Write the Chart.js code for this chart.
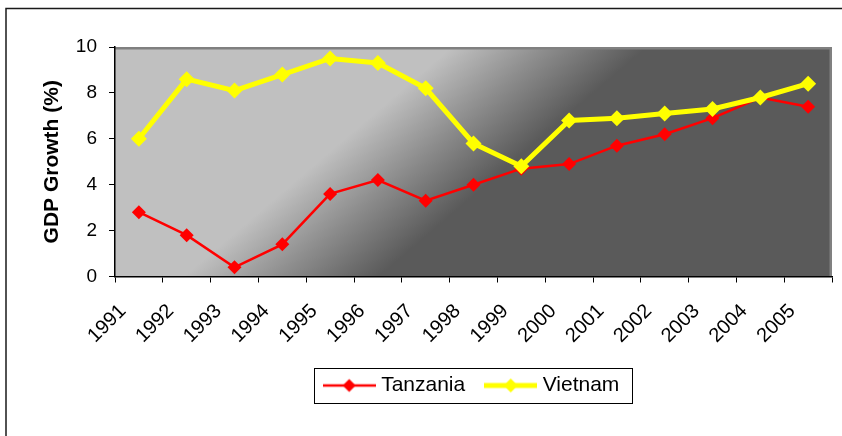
<!DOCTYPE html>
<html>
<head>
<meta charset="utf-8">
<script src="https://cdn.jsdelivr.net/npm/chart.js@4.4.0/dist/chart.umd.min.js"></script>
<style>
  html, body { margin: 0; padding: 0; background: #fff; }
  canvas { display: block; }
</style>
</head>
<body>
<canvas id="gdp-chart" width="842" height="436"></canvas>
<script>
var years = ['1991', '1992', '1993', '1994', '1995', '1996', '1997', '1998',
             '1999', '2000', '2001', '2002', '2003', '2004', '2005'];
var tanzaniaGrowth = [2.8, 1.8, 0.4, 1.4, 3.6, 4.2, 3.3, 4.0, 4.7, 4.9, 5.7, 6.2, 6.9, 7.8, 7.4];
var vietnamGrowth = [6.0, 8.6, 8.1, 8.8, 9.5, 9.3, 8.2, 5.8, 4.8, 6.8, 6.9, 7.1, 7.3, 7.8, 8.4];
var yTicks = [0, 2, 4, 6, 8, 10];

Chart.defaults.font.family = "'Liberation Sans', Arial, sans-serif";
Chart.defaults.color = '#000';

// legend swatch: short line with a diamond in the middle, like the excel legend
function legendMarker(color, lineWidth, radius) {
    var c = document.createElement('canvas');
    c.width = 53;
    c.height = 18;
    var g = c.getContext('2d');
    g.strokeStyle = color;
    g.lineWidth = lineWidth;
    g.beginPath();
    g.moveTo(0, 9);
    g.lineTo(53, 9);
    g.stroke();
    g.fillStyle = color;
    g.beginPath();
    g.moveTo(26.5 - radius, 9);
    g.lineTo(26.5, 9 - radius);
    g.lineTo(26.5 + radius, 9);
    g.lineTo(26.5, 9 + radius);
    g.closePath();
    g.fill();
    return c;
}
var markers = [legendMarker('#ff0000', 2.5, 6.5), legendMarker('#ffff00', 5, 7)];

var plotDecor = {
    id: 'plotDecor',
    beforeDraw: function (chart) {
        var ctx = chart.ctx, a = chart.chartArea;
        var w = a.right - a.left, h = a.bottom - a.top;
        ctx.save();
        // outer chart frame (only top and left are inside the picture)
        ctx.strokeStyle = '#1a1a1a';
        ctx.lineWidth = 1.5;
        ctx.beginPath();
        ctx.moveTo(6, chart.height);
        ctx.lineTo(6, 8.5);
        ctx.lineTo(chart.width, 8.5);
        ctx.stroke();
        // diagonal grey gradient in the plot area
        var grad = ctx.createLinearGradient(a.left + 0.47 * w, a.top, a.left + 0.585 * w, a.top + 0.42 * h);
        grad.addColorStop(0, '#c0c0c0');
        grad.addColorStop(0.5, '#8c8c8c');
        grad.addColorStop(1, '#5a5a5a');
        ctx.fillStyle = grad;
        ctx.fillRect(a.left, a.top, w, h);
        ctx.strokeStyle = '#808080';
        ctx.lineWidth = 2.5;
        ctx.beginPath();
        ctx.moveTo(a.left, a.top + 1.25);
        ctx.lineTo(a.right - 1.25, a.top + 1.25);
        ctx.lineTo(a.right - 1.25, a.bottom);
        ctx.stroke();
        ctx.restore();
    },
    afterDraw: function (chart) {
        var lg = chart.legend;
        if (!lg || !lg.lineWidths) return;
        var ctx = chart.ctx;
        var pad = lg.options.labels.padding;
        var startX = (lg.left + pad + lg.right - lg.lineWidths[0]) / 2;
        var rowW = lg.lineWidths[0] - pad;
        var rowTop = lg.top + pad;
        ctx.save();
        ctx.strokeStyle = '#000';
        ctx.lineWidth = 1;
        ctx.strokeRect(Math.round(startX - 14) + 0.5, Math.round(rowTop - 7) + 0.5, Math.round(rowW + 26), 35);
        ctx.restore();
    }
};

var gdpChart = new Chart(document.getElementById('gdp-chart'), {
    type: 'line',
    data: {
        labels: years,
        datasets: [
            {
                label: 'Tanzania',
                data: tanzaniaGrowth,
                borderColor: '#ff0000',
                backgroundColor: '#ff0000',
                borderWidth: 2.5,
                pointStyle: 'rectRot',
                pointRadius: 7,
                pointBorderWidth: 0,
                pointBackgroundColor: '#ff0000',
                tension: 0,
                order: 1
            },
            {
                label: 'Vietnam',
                data: vietnamGrowth,
                borderColor: '#ffff00',
                backgroundColor: '#ffff00',
                borderWidth: 5,
                pointStyle: 'rectRot',
                pointRadius: 8,
                pointBorderWidth: 0,
                pointBackgroundColor: '#ffff00',
                tension: 0,
                order: 0
            }
        ]
    },
    options: {
        responsive: false,
        animation: false,
        layout: { padding: { left: 40, top: 47, right: 10, bottom: 30 } },
        plugins: {
            tooltip: { enabled: false },
            legend: {
                position: 'bottom',
                fullSize: false,
                labels: {
                    usePointStyle: true,
                    pointStyleWidth: 43,
                    padding: 24,
                    color: '#000',
                    font: { size: 21 },
                    generateLabels: function (chart) {
                        return chart.data.datasets.map(function (ds, i) {
                            return {
                                text: ds.label,
                                pointStyle: markers[i],
                                fillStyle: ds.borderColor,
                                strokeStyle: ds.borderColor,
                                lineWidth: 0,
                                hidden: false,
                                datasetIndex: i,
                                fontColor: '#000'
                            };
                        });
                    }
                }
            }
        },
        scales: {
            x: {
                offset: true,
                grid: { offset: true, drawOnChartArea: false, drawTicks: true, tickLength: 6, color: '#000' },
                border: { color: '#000', width: 1.5 },
                ticks: {
                    autoSkip: false, maxRotation: 45, minRotation: 45,
                    padding: 17, labelOffset: -16, color: '#000', font: { size: 20 }
                },
                afterFit: function (scale) {
                    scale.height = 74.5;
                    scale.paddingLeft = 0;
                    scale.paddingRight = 0;
                }
            },
            y: {
                min: yTicks[0],
                max: yTicks[yTicks.length - 1],
                ticks: { stepSize: yTicks[1] - yTicks[0], padding: 12, color: '#000', font: { size: 19 } },
                grid: { drawOnChartArea: false, tickLength: 6, color: '#000' },
                border: { color: '#000', width: 1.5 },
                title: {
                    display: true,
                    text: 'GDP Growth (%)',
                    color: '#000',
                    font: { size: 21, weight: 'bold' },
                    padding: { top: 0, bottom: 0 }
                },
                afterFit: function (scale) { scale.width = 75; }
            }
        }
    },
    plugins: [plotDecor]
});
</script>
</body>
</html>
